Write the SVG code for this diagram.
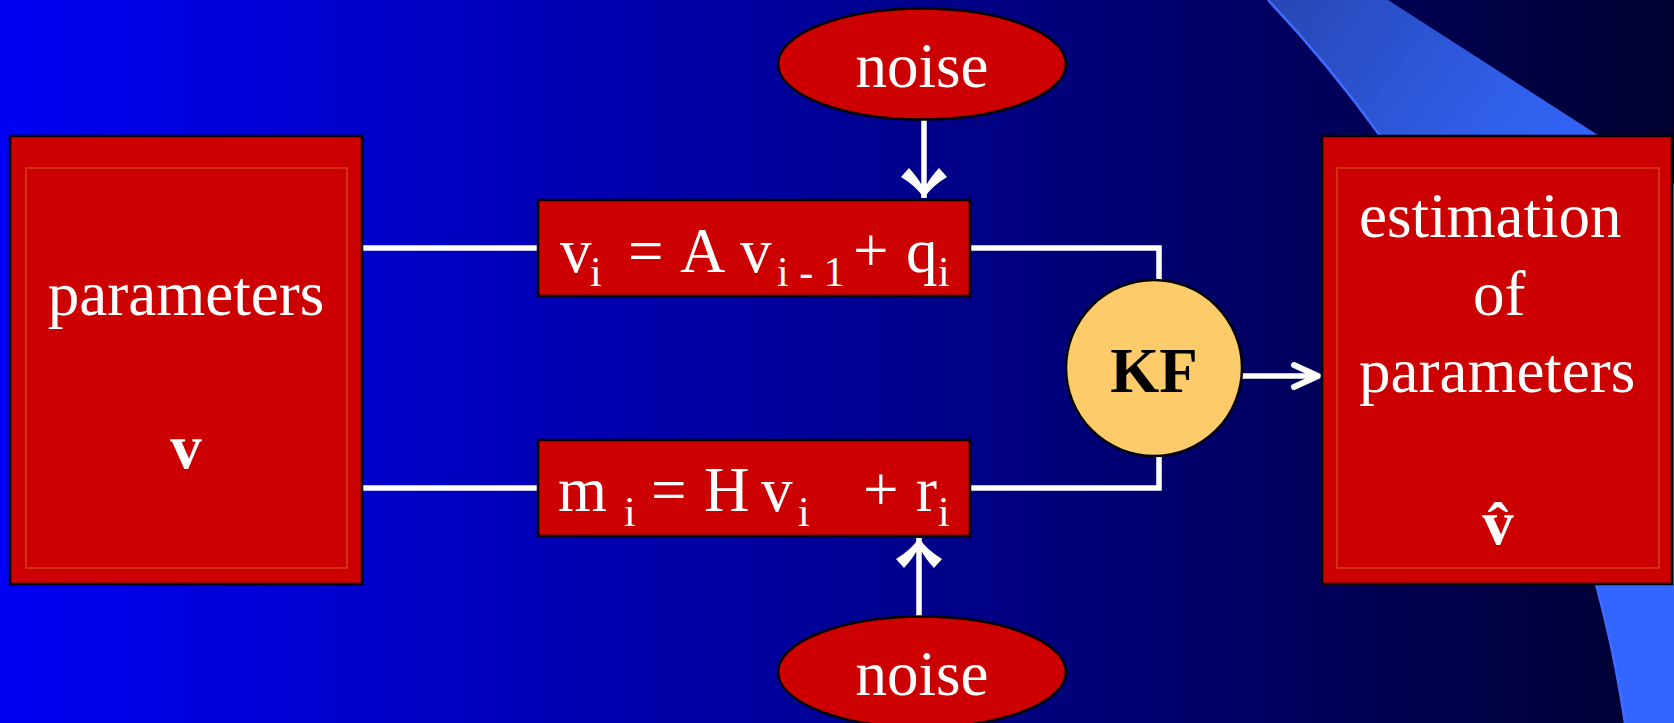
<svg xmlns="http://www.w3.org/2000/svg" width="1674" height="723" viewBox="0 0 1674 723">
<defs>
<linearGradient id="bg" x1="0" y1="0" x2="1674" y2="0" gradientUnits="userSpaceOnUse">
<stop offset="0" stop-color="#0000f4"/>
<stop offset="0.5" stop-color="#000096"/>
<stop offset="1" stop-color="#000030"/>
</linearGradient>
<linearGradient id="swoosh" x1="1270" y1="0" x2="1620" y2="260" gradientUnits="userSpaceOnUse">
<stop offset="0" stop-color="#2746b4"/>
<stop offset="0.6" stop-color="#3060ec"/>
<stop offset="1" stop-color="#3366ff"/>
</linearGradient>
<marker id="barb" markerUnits="userSpaceOnUse" orient="auto" refX="0" refY="0" overflow="visible">
<path d="M0,0 Q-12,-8 -21,-23 L-30,-15 Q-20,-6 -14,-3 L-14,3 Q-20,6 -30,15 L-21,23 Q-12,8 0,0 Z" fill="#fff"/>
</marker>
<marker id="chev" markerUnits="userSpaceOnUse" orient="auto" refX="0" refY="0" overflow="visible">
<path d="M-24,-11 L0,0 L-24,11" fill="none" stroke="#fff" stroke-width="6" stroke-linecap="round" stroke-linejoin="round"/>
</marker>
</defs>
<style>
.box{fill:#cc0000;stroke:#000;stroke-width:2.5}
.inner{fill:none;stroke:#d8400a;stroke-width:1.5}
.t{font-family:"Liberation Serif","Times New Roman",serif;fill:#fff;font-size:63px}
.sub{font-size:42px}
.b{font-weight:bold}
.conn{fill:none;stroke:#fff;stroke-width:5.5}
</style>
<rect x="0" y="0" width="1674" height="723" fill="url(#bg)"/>
<g id="decor">
<path d="M1268,0 C1420,160 1580,420 1625,723 L1674,723 L1674,184 L1388,0 Z" fill="url(#swoosh)"/>
<path d="M1268,0 C1420,160 1580,420 1625,723" fill="none" stroke="#3f6cff" stroke-width="2.5"/>
</g>
<g id="connectors">
<line class="conn" x1="362" y1="248" x2="538" y2="248"/>
<line class="conn" x1="362" y1="488" x2="538" y2="488"/>
<polyline class="conn" points="970,248 1159,248 1159,282"/>
<polyline class="conn" points="970,488 1159,488 1159,454"/>
<line class="conn" x1="1242" y1="376" x2="1318" y2="376" marker-end="url(#chev)"/>
<line class="conn" x1="924" y1="120" x2="924" y2="198" marker-end="url(#barb)"/>
<line class="conn" x1="919" y1="617" x2="919" y2="538" marker-end="url(#barb)"/>
</g>
<g id="params">
<rect class="box" x="10" y="136" width="352" height="448"/>
<rect class="inner" x="26" y="168" width="321" height="400"/>
<text class="t" x="186" y="315" text-anchor="middle">parameters</text>
<text class="t b" x="186" y="468" text-anchor="middle">v</text>
</g>
<g id="state-eq">
<rect class="box" x="538" y="200" width="432" height="96"/>
<text class="t" x="560" y="272">v</text>
<text class="t sub" x="590" y="286">i</text>
<text class="t" x="628" y="272">=</text>
<text class="t" x="680" y="272">A</text>
<text class="t" x="740" y="272">v</text>
<text class="t sub" x="777" y="286">i - 1</text>
<text class="t" x="853" y="272">+</text>
<text class="t" x="906" y="272">q</text>
<text class="t sub" x="938" y="286">i</text>
</g>
<g id="meas-eq">
<rect class="box" x="538" y="440" width="432" height="96"/>
<text class="t" x="558" y="511">m</text>
<text class="t sub" x="624" y="526">i</text>
<text class="t" x="651" y="511">=</text>
<text class="t" x="704" y="511">H</text>
<text class="t" x="761" y="511">v</text>
<text class="t sub" x="798" y="526">i</text>
<text class="t" x="863" y="511">+</text>
<text class="t" x="916" y="511">r</text>
<text class="t sub" x="938" y="526">i</text>
</g>
<g id="noise-top">
<ellipse class="box" cx="922" cy="64" rx="144" ry="55.5"/>
<text class="t" x="922" y="87" text-anchor="middle">noise</text>
</g>
<g id="noise-bottom">
<ellipse class="box" cx="922" cy="672" rx="144" ry="55.5"/>
<text class="t" x="922" y="695" text-anchor="middle">noise</text>
</g>
<g id="kf">
<circle cx="1154" cy="368" r="88" fill="#fecb6a" stroke="#000" stroke-width="2.5"/>
<text class="t b" x="1154" y="392" text-anchor="middle" style="fill:#000">KF</text>
</g>
<g id="estimate">
<rect class="box" x="1322" y="136" width="350" height="448"/>
<rect class="inner" x="1337" y="168" width="322" height="400"/>
<text class="t" x="1359" y="237">estimation</text>
<text class="t" x="1473" y="315">of</text>
<text class="t" x="1359" y="392">parameters</text>
<text class="t b" x="1498" y="544" text-anchor="middle">v&#x302;</text>
</g>
</svg>
